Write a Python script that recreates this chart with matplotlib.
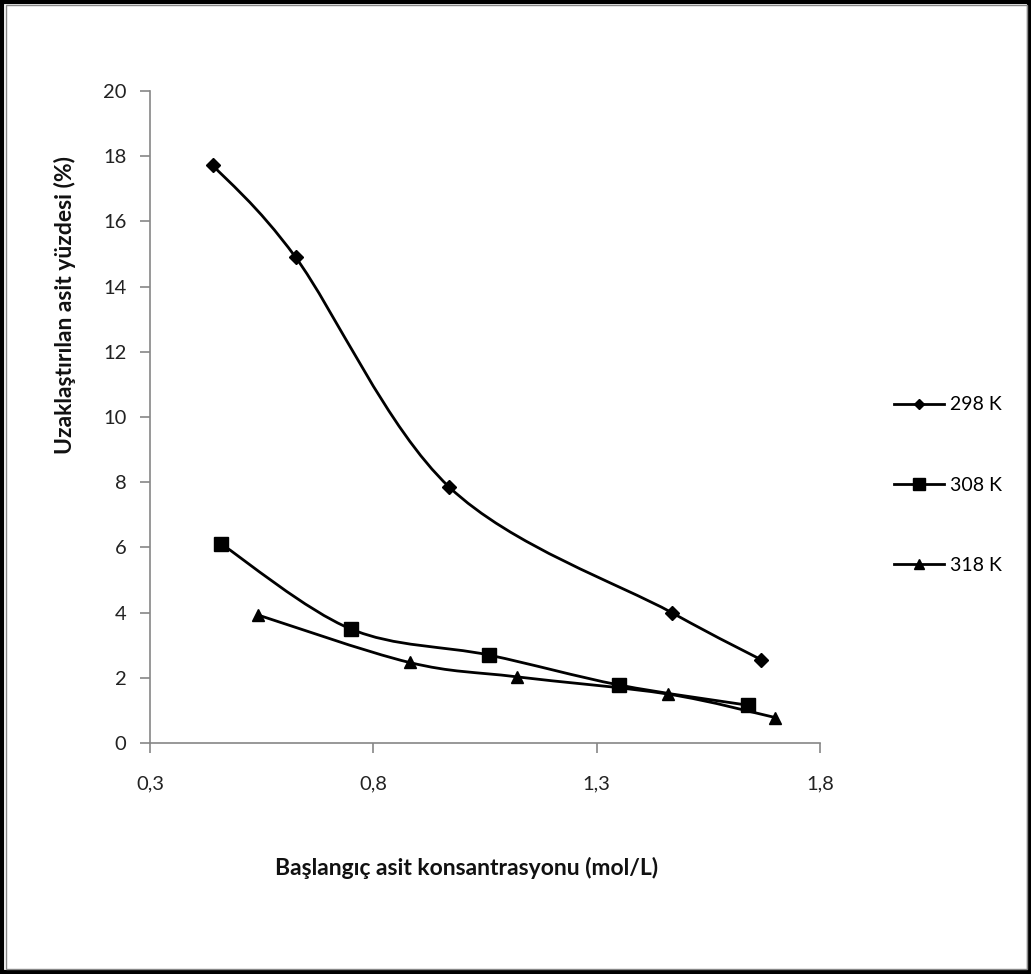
import numpy as np
import matplotlib
matplotlib.use('Agg')
import matplotlib.pyplot as plt
from matplotlib.path import Path
from matplotlib.patches import PathPatch, Rectangle
from matplotlib.lines import Line2D
from matplotlib.ticker import FuncFormatter

plt.rcParams['font.family'] = ['Lato', 'DejaVu Sans']

# data
x_298 = [0.44, 0.626, 0.97, 1.468, 1.669]
y_298 = [17.73, 14.9, 7.85, 4.0, 2.55]
x_308 = [0.46, 0.749, 1.058, 1.35, 1.638]
y_308 = [6.1, 3.5, 2.7, 1.78, 1.16]
x_318 = [0.541, 0.881, 1.121, 1.46, 1.70]
y_318 = [3.93, 2.47, 2.03, 1.5, 0.78]
series_labels = ['298 K', '308 K', '318 K']
markers = ['D', 's', '^']
marker_sizes = [7, 10, 9]


def smooth_path(xs, ys):
    # excel style smoothed line: bezier segments through the points
    pts = np.column_stack([xs, ys])
    n = len(pts)
    verts = [pts[0]]
    codes = [Path.MOVETO]
    for i in range(n - 1):
        p0 = pts[i - 1] if i > 0 else pts[i]
        p1 = pts[i]
        p2 = pts[i + 1]
        p3 = pts[i + 2] if i + 2 < n else pts[i + 1]
        c1 = p1 + (p2 - p0) / 6.0
        c2 = p2 - (p3 - p1) / 6.0
        verts += [c1, c2, p2]
        codes += [Path.CURVE4] * 3
    return Path(verts, codes)


fig = plt.figure(figsize=(10.31, 9.74), dpi=100)
ax = fig.add_axes([150/1031, 1-743/974, 670/1031, 652/974])

all_x = [x_298, x_308, x_318]
all_y = [y_298, y_308, y_318]
for xs, ys, m, ms in zip(all_x, all_y, markers, marker_sizes):
    ax.add_patch(PathPatch(smooth_path(xs, ys), facecolor='none',
                           edgecolor='black', lw=2, zorder=2))
    ax.plot(xs, ys, linestyle='none', marker=m, markersize=ms,
            color='black', zorder=3)

ax.set_xlim(0.3, 1.8)
ax.set_ylim(0, 20)
ax.set_xticks([0.3, 0.8, 1.3, 1.8])
ax.set_yticks(range(0, 21, 2))
ax.xaxis.set_major_formatter(FuncFormatter(lambda v, p: f'{v:.1f}'.replace('.', ',')))
for s in ['top', 'right']:
    ax.spines[s].set_visible(False)
for s in ['left', 'bottom']:
    ax.spines[s].set_color('#868686')
    ax.spines[s].set_linewidth(1.2)
ax.tick_params(axis='both', colors='#868686', labelcolor='#222222',
               labelsize=14.5, length=7, width=1.2)
ax.tick_params(axis='x', pad=16)
ax.tick_params(axis='y', pad=10)

fig.text(65/1031, 1-305/974, 'Uzaklaştırılan asit yüzdesi (%)', rotation=90,
         ha='center', va='center', fontsize=16.5, fontweight='bold', color='#111111')
fig.text(467/1031, 1-868/974, 'Başlangıç asit konsantrasyonu (mol/L)',
         ha='center', va='center', fontsize=16.5, fontweight='bold', color='#111111')

handles = [Line2D([], [], color='black', lw=2, marker=m, markersize=ms * 0.8)
           for m, ms in zip(markers, marker_sizes)]
fig.legend(handles, series_labels, loc='center left',
           bbox_to_anchor=(884/1031, 1-485/974), frameon=False,
           fontsize=14, handlelength=2.6, handletextpad=0.3,
           labelspacing=3.25, borderpad=0)

# outer frame like the pasted chart
fig.add_artist(Rectangle((0.002, 0.002), 0.996, 0.996, transform=fig.transFigure,
                         fill=False, edgecolor='black', lw=3))
fig.add_artist(Rectangle((0.006, 0.005), 0.99, 0.99, transform=fig.transFigure,
                         fill=False, edgecolor='#888888', lw=1))

plt.savefig('out.png', dpi=100)
